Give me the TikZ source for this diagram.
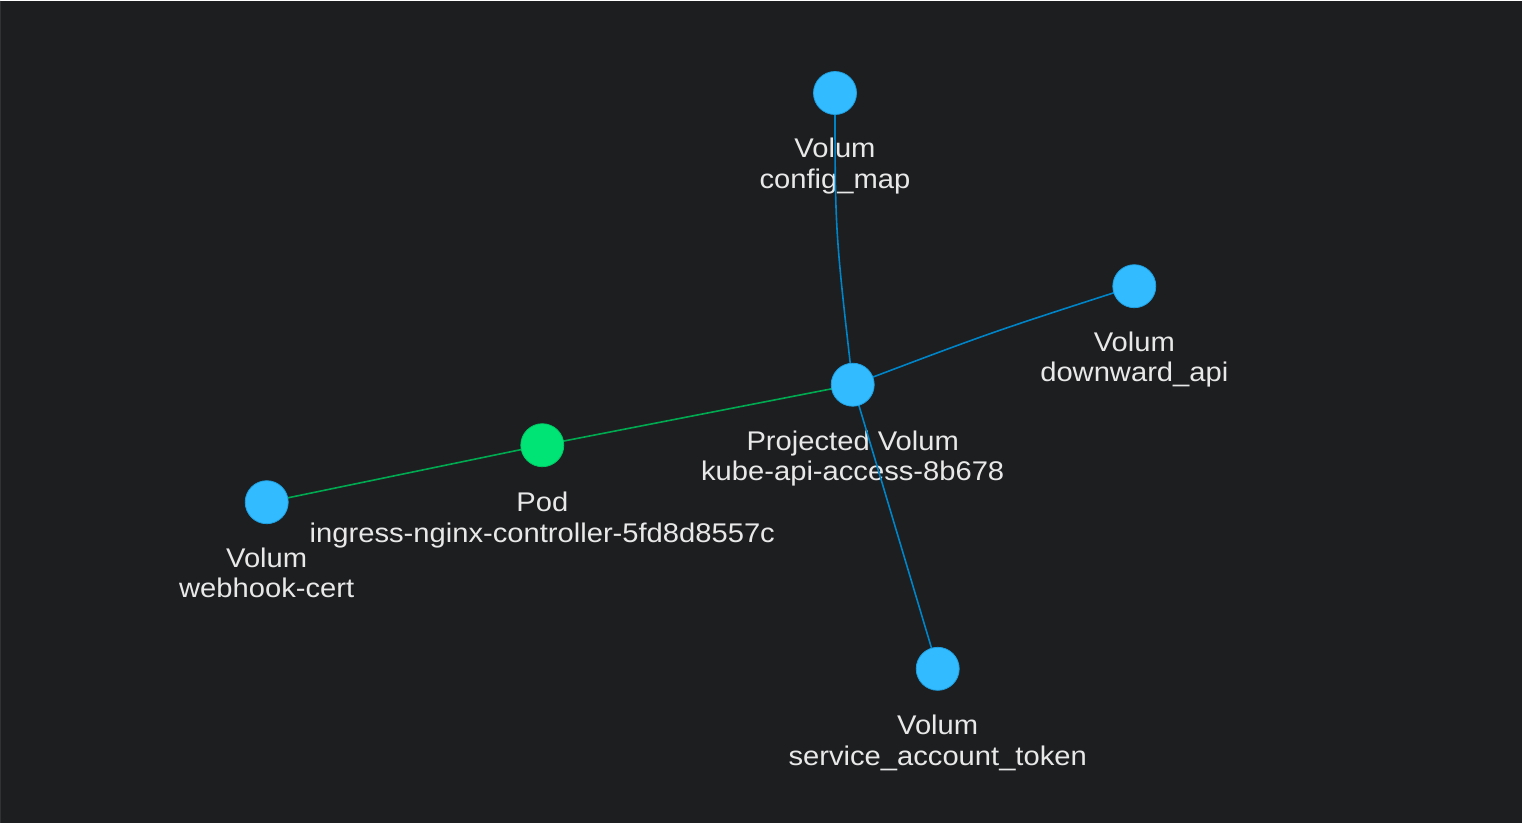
\documentclass[tikz,border=0pt]{standalone}
\usepackage{fontspec}
\setmainfont{Liberation Sans}[FakeStretch=1.08]
\definecolor{bgc}{RGB}{28,30,32}
\definecolor{volfill}{RGB}{51,187,255}
\definecolor{voldraw}{RGB}{30,160,225}
\definecolor{podfill}{RGB}{0,228,118}
\definecolor{poddraw}{RGB}{0,200,100}
\definecolor{edgeblue}{RGB}{0,132,200}
\definecolor{edgegreen}{RGB}{0,170,80}
\definecolor{txt}{RGB}{232,232,232}
\pgfdeclarelayer{bglayer}
\pgfdeclarelayer{labellayer}
\pgfdeclarelayer{edgelayer}
\pgfsetlayers{bglayer,labellayer,edgelayer,main}
\tikzset{
  vol/.style={circle, fill=volfill, draw=voldraw, line width=0.8pt, minimum size=43pt, inner sep=0pt},
  podnode/.style={circle, fill=podfill, draw=poddraw, line width=0.8pt, minimum size=43pt, inner sep=0pt},
  lbl/.style={anchor=north, align=center, inner sep=0pt, text=txt, font=\fontsize{27}{30.4}\selectfont},
  eb/.style={draw=edgeblue, line width=1.6pt},
  eg/.style={draw=edgegreen, line width=1.6pt}
}
\begin{document}
\begin{tikzpicture}[x=1pt,y=-1pt]
\begin{pgfonlayer}{bglayer}
\fill[bgc] (0,0) rectangle (1522,822);
\draw[color={rgb,255:red,48;green,50;blue,52}, line width=1pt] (0.5,0) -- (0.5,822);
\end{pgfonlayer}
\useasboundingbox (0,0) rectangle (1522,822);

\node[vol] (cm) at (835,92.5) {};
\node[vol] (da) at (1134.3,285.7) {};
\node[vol] (pv) at (852.7,384.2) {};
\node[podnode] (pod) at (542.3,444.7) {};
\node[vol] (wc) at (266.7,501.7) {};
\node[vol] (sa) at (937.7,668.3) {};

\begin{pgfonlayer}{labellayer}
\node[lbl] (cmL) at (835,137.5) {Volum\\config\_map};
\node[lbl] (daL) at (1134.3,331) {Volum\\downward\_api};
\node[lbl] (pvL) at (852.7,430) {Projected Volum\\kube-api-access-8b678};
\node[lbl] (podL) at (542.3,491.5) {Pod\\ingress-nginx-controller-5fd8d8557c};
\node[lbl] (wcL) at (266.7,547) {Volum\\webhook-cert};
\node[lbl] (saL) at (937.7,714.5) {Volum\\service\_account\_token};
\end{pgfonlayer}

\begin{pgfonlayer}{edgelayer}
\draw[eb] (cm.center) .. controls (835,230) .. (pv.center);
\draw[eb] (da.center) .. controls (992,331.5) .. (pv.center);
\draw[eb] (pv.center) -- (sa.center);
\draw[eg] (pod.center) -- (pv.center);
\draw[eg] (wc.center) -- (pod.center);
\end{pgfonlayer}
\end{tikzpicture}
\end{document}
